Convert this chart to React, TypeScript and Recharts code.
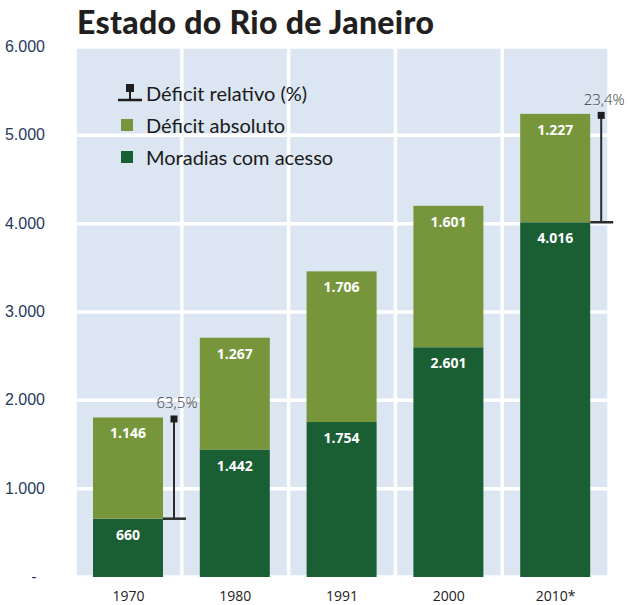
import React from "react";
import {
  BarChart,
  Bar,
  XAxis,
  YAxis,
  CartesianGrid,
  Legend,
  LabelList,
} from "recharts";

const anos = ["1970", "1980", "1991", "2000", "2010*"];
const moradiasComAcesso = [660, 1442, 1754, 2601, 4016];
const deficitAbsoluto = [1146, 1267, 1706, 1601, 1227];
const deficitRelativo: (string | null)[] = ["63,5%", null, null, null, "23,4%"];
const yTicks = [0, 1000, 2000, 3000, 4000, 5000, 6000];

const VERDE_ESCURO = "#1a5e33";
const VERDE_OLIVA = "#77963c";
const FUNDO = "#dce6f2";

const data = anos.map((ano, i) => ({
  ano,
  moradias: moradiasComAcesso[i],
  deficit: deficitAbsoluto[i],
  relativo: deficitRelativo[i],
}));

// separador de milhar com ponto
const fmt = (v: number) => String(v).replace(/\B(?=(\d{3})+(?!\d))/g, ".");

function ValorLabel(props: any) {
  const { x, y, width, value } = props;
  return (
    <text
      x={x + width / 2}
      y={y + 21}
      textAnchor="middle"
      fill="#fff"
      fontSize={14}
      fontWeight={700}
      fontFamily="Open Sans"
    >
      {fmt(value)}
    </text>
  );
}

// barra do déficit + marcador do déficit relativo quando existir
function DeficitShape(props: any) {
  const { x, y, width, height, fill, payload } = props;
  const right = x + width;
  const lx = right + 11;
  return (
    <g>
      <rect x={x} y={y} width={width} height={height} fill={fill} />
      {payload && payload.relativo && (
        <g>
          <line x1={lx} x2={lx} y1={y + 3} y2={y + height} stroke="#2b2b2b" strokeWidth={2} />
          <line x1={right} x2={right + 23} y1={y + height} y2={y + height} stroke="#2b2b2b" strokeWidth={2.5} />
          <rect x={lx - 3.5} y={y - 2} width={7} height={7} fill="#1e1e1e" />
          <text
            x={lx + 3}
            y={y - 9}
            textAnchor="middle"
            fill="#3a3a3a"
            fontSize={15}
            fontFamily="Open Sans"
            fontWeight={300}
          >
            {payload.relativo}
          </text>
        </g>
      )}
    </g>
  );
}

function YTick(props: any) {
  const { x, y, payload } = props;
  const zero = payload.value === 0;
  return (
    <text
      x={zero ? x - 33 : x - 22}
      y={y}
      dy={5}
      textAnchor={zero ? "middle" : "end"}
      fill="#1f3a5f"
      fontSize={16}
      fontFamily="Liberation Sans"
    >
      {zero ? "-" : fmt(payload.value)}
    </text>
  );
}

function XTick(props: any) {
  const { x, y, payload } = props;
  return (
    <text x={x} y={y} dy={16} textAnchor="middle" fill="#222" fontSize={14} fontFamily="Open Sans">
      {payload.value}
    </text>
  );
}

function Legenda() {
  const row: React.CSSProperties = { display: "flex", alignItems: "center", height: 32 };
  const txt: React.CSSProperties = { fontSize: 20, color: "#1a1a1a", fontFamily: "Lato", lineHeight: "20px" };
  return (
    <div>
      <div style={row}>
        <svg width={30} height={20}>
          <rect x={10} y={1} width={8} height={8} fill="#1e1e1e" />
          <line x1={14} x2={14} y1={9} y2={17} stroke="#1e1e1e" strokeWidth={2} />
          <line x1={2} x2={26} y1={17} y2={17} stroke="#1e1e1e" strokeWidth={2.5} />
        </svg>
        <span style={txt}>Déficit relativo (%)</span>
      </div>
      <div style={row}>
        <svg width={30} height={20}>
          <rect x={5} y={4} width={12} height={12} fill={VERDE_OLIVA} />
        </svg>
        <span style={txt}>Déficit absoluto</span>
      </div>
      <div style={row}>
        <svg width={30} height={20}>
          <rect x={5} y={4} width={12} height={12} fill={VERDE_ESCURO} />
        </svg>
        <span style={txt}>Moradias com acesso</span>
      </div>
    </div>
  );
}

export default function App() {
  return (
    <div style={{ position: "absolute", left: 0, top: 0, width: 628, height: 605, background: "#fff" }}>
      <div
        style={{
          position: "absolute",
          left: 77,
          top: 2,
          fontFamily: "Lato",
          fontWeight: 900,
          fontSize: 32,
          letterSpacing: 0.3,
          color: "#231f20",
          whiteSpace: "nowrap",
        }}
      >
        Estado do Rio de Janeiro
      </div>
      <BarChart
        width={628}
        height={605}
        data={data}
        margin={{ top: 47, right: 19, left: 15, bottom: 0 }}
        barSize={70}
      >
        <CartesianGrid
          fill={FUNDO}
          fillOpacity={1}
          stroke="#ffffff"
          strokeWidth={3.5}
          verticalCoordinatesGenerator={({ offset }: any) =>
            anos.map((_, i) => offset.left + (i * offset.width) / anos.length).concat(offset.left + offset.width)
          }
        />
        <XAxis dataKey="ano" axisLine={false} tickLine={false} height={28} tick={<XTick />} interval={0} />
        <YAxis
          domain={[0, 6000]}
          ticks={yTicks}
          axisLine={false}
          tickLine={false}
          width={60}
          tick={<YTick />}
          interval={0}
        />
        <Legend
          layout="vertical"
          align="center"
          verticalAlign="middle"
          wrapperStyle={{ left: 116, top: 77, width: 280 }}
          content={<Legenda />}
        />
        <Bar dataKey="moradias" stackId="a" fill={VERDE_ESCURO} isAnimationActive={false} name="Moradias com acesso">
          <LabelList dataKey="moradias" content={<ValorLabel />} />
        </Bar>
        <Bar
          dataKey="deficit"
          stackId="a"
          fill={VERDE_OLIVA}
          isAnimationActive={false}
          name="Déficit absoluto"
          shape={<DeficitShape />}
        >
          <LabelList dataKey="deficit" content={<ValorLabel />} />
        </Bar>
      </BarChart>
    </div>
  );
}
